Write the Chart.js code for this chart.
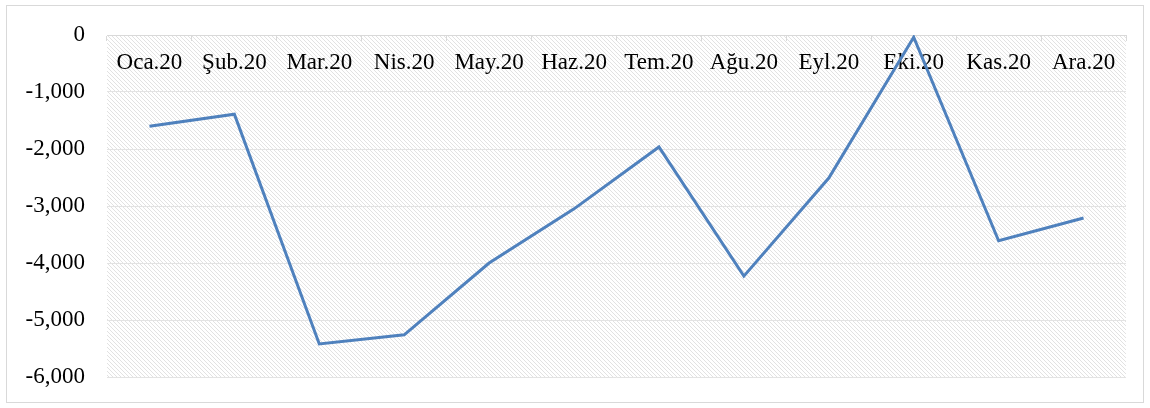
<!DOCTYPE html>
<html lang="tr">
<head>
  <meta charset="UTF-8" />
  <title>2020</title>
  <script src="https://cdn.jsdelivr.net/npm/chart.js"></script>
  <style>
    html, body { margin: 0; padding: 0; background: #fff; }
    #wrap { width: 1150px; height: 408px; }
  </style>
</head>
<body>
  <div id="wrap"><canvas id="chart" width="1150" height="408"></canvas></div>

  <script>
    const months = ['Oca.20', 'Şub.20', 'Mar.20', 'Nis.20', 'May.20', 'Haz.20',
                    'Tem.20', 'Ağu.20', 'Eyl.20', 'Eki.20', 'Kas.20', 'Ara.20'];
    const values = [-1600, -1390, -5420, -5260, -4000, -3050,
                    -1965, -4230, -2510, -40, -3610, -3210];
    const yMin = -6000;
    const yMax = 0;
    const yStep = 1000;

    const font = { family: '"Liberation Serif", "Times New Roman", serif', size: 23 };

    // light downward diagonal hatch, like the Excel fill
    function hatch() {
      const c = document.createElement('canvas');
      c.width = 4; c.height = 4;
      const g = c.getContext('2d');
      g.fillStyle = '#fff';
      g.fillRect(0, 0, 4, 4);
      g.fillStyle = '#e2e2e2';
      for (let i = 0; i < 4; i++) g.fillRect(i, i, 1, 1);
      return g.createPattern(c, 'repeat');
    }

    const background = {
      id: 'background',
      beforeDraw(chart) {
        const { ctx, chartArea: a } = chart;
        ctx.save();
        ctx.fillStyle = '#fff';
        ctx.fillRect(0, 0, chart.width, chart.height);
        ctx.strokeStyle = '#d9d9d9';
        ctx.lineWidth = 1;
        ctx.strokeRect(6.5, 5.5, 1137, 397);
        ctx.fillStyle = hatch();
        ctx.fillRect(a.left, a.top, a.right - a.left, a.bottom - a.top);
        ctx.restore();
      }
    };

    new Chart(document.getElementById('chart'), {
      type: 'line',
      data: {
        labels: months,
        datasets: [{
          data: values,
          borderColor: '#4f81bd',
          borderWidth: 3,
          pointRadius: 0,
          tension: 0
        }]
      },
      options: {
        responsive: false,
        animation: false,
        layout: { padding: { top: 35, right: 24, bottom: 31, left: 0 } },
        plugins: { legend: { display: false }, tooltip: { enabled: false } },
        scales: {
          x: {
            position: { y: 0 },
            offset: true,
            afterFit(scale) { scale.height = 0; },
            grid: { offset: true, drawOnChartArea: false, drawTicks: true, tickLength: 5, color: '#d9d9d9' },
            border: { display: true, color: '#d9d9d9', width: 1 },
            ticks: { color: '#000', font: font, padding: 9, maxRotation: 0, autoSkip: false }
          },
          y: {
            min: yMin,
            max: yMax,
            afterFit(scale) {
              scale.width = 107;
              scale.paddingTop = 0;
              scale.paddingBottom = 0;
            },
            grid: { color: '#e3e3e3', drawTicks: false },
            border: { display: false },
            ticks: {
              stepSize: yStep,
              color: '#000',
              font: font,
              padding: 22,
              callback: v => v.toLocaleString('en-US')
            }
          }
        }
      },
      plugins: [background]
    });
  </script>
</body>
</html>
